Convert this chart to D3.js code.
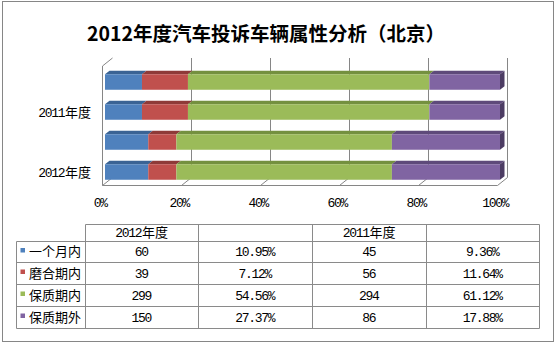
<!DOCTYPE html>
<html><head><meta charset="utf-8">
<script src="https://cdn.jsdelivr.net/npm/d3@7"></script>
<style>html,body{margin:0;padding:0;background:#fff;}svg{display:block;}</style>
</head><body>
<script>
// ---------- data ----------
const seriesNames = ["一个月内", "磨合期内", "保质期内", "保质期外"];
const seriesColors = ["#4F81BD", "#C0504D", "#9BBB59", "#8064A2"];
const topColors = ["#3A6394", "#8E3A38", "#74903F", "#5E4A7A"];
const sideColors = ["#2E4F78", "#74302E", "#5E7533", "#4C3C63"];
const years = ["2012年度", "2011年度"];
const counts2012 = [60, 39, 299, 150];
const pct2012 = [10.95, 7.12, 54.56, 27.37];
const counts2011 = [45, 56, 294, 86];
const pct2011 = [9.36, 11.64, 61.12, 17.88];
const barYears = ["2011年度", "2011年度", "2012年度", "2012年度"];
const axisLabels = ["", "2011年度", "", "2012年度"];
const tickValues = [0, 20, 40, 60, 80, 100];
const tickLabels = ["0%", "20%", "40%", "60%", "80%", "100%"];
const title = "2012年度汽车投诉车辆属性分析（北京）";

// ---------- setup ----------
const W = 556, H = 345;
const svg = d3.select("body").append("svg").attr("width", W).attr("height", H);
svg.append("rect").attr("width", W).attr("height", H).attr("fill", "#fff");
const GRID = "#868686";
const FONT = '"Liberation Mono","Noto Sans CJK SC",sans-serif';

// text with SimSun-like advances: ASCII half width, CJK full width
function simText(g, str, x, y, anchor, size) {
  const chars = Array.from(str);
  const w = chars.map(c => c.charCodeAt(0) < 128 ? size * 0.5 : size);
  const total = d3.sum(w);
  let start = anchor === "middle" ? x - total / 2 : anchor === "end" ? x - total : x;
  const xs = [];
  chars.forEach((c, i) => { xs.push((start + (c.charCodeAt(0) < 128 ? (w[i] - size * 0.6) / 2 : 0)).toFixed(2)); start += w[i]; });
  return g.append("text").attr("x", xs.join(" ")).attr("y", y)
    .attr("dominant-baseline", "central").attr("font-family", FONT)
    .attr("font-size", size).attr("fill", "#000").text(str);
}

// outer border
svg.append("rect").attr("x", 2.5).attr("y", 1.5).attr("width", 551).attr("height", 340)
  .attr("fill", "none").attr("stroke", "#868686");

// title
svg.append("text").attr("x", 266).attr("y", 32).attr("text-anchor", "middle")
  .attr("dominant-baseline", "central")
  .attr("font-family", '"Noto Sans CJK SC",sans-serif').attr("font-weight", "bold")
  .attr("font-size", 19.5).attr("fill", "#000").text(title);

// ---------- 3D plot ----------
const x = d3.scaleLinear().domain([0, 100]).range([102, 497]);
const floorY = 185.5, wallTopFront = 66;
const D = { dx: 10, dy: -8 };       // depth of chart walls
const B = { dx: 3, dy: -2.5 };      // bar front inset
const BD = { dx: 4.5, dy: -3.4 };   // bar depth
const y = d3.scaleBand().domain(d3.range(barYears.length)).range([67, 187])
  .paddingInner(0.483).paddingOuter(0.2417);

const grid = svg.append("g").attr("fill", "none").attr("stroke", GRID).attr("stroke-width", 1);
// gridlines on back wall + floor diagonals
tickValues.forEach(v => {
  const xf = Math.round(x(v)) + 0.5, xb = xf + D.dx;
  if (v > 0) grid.append("line").attr("x1", xb).attr("x2", xb)
    .attr("y1", wallTopFront + D.dy).attr("y2", floorY + D.dy);
  grid.append("line").attr("x1", xf).attr("y1", floorY).attr("x2", xb).attr("y2", floorY + D.dy);
});
// floor front edge
grid.append("line").attr("x1", Math.round(x(0)) + 0.5).attr("x2", Math.round(x(100)) + 0.5)
  .attr("y1", floorY).attr("y2", floorY);
// side wall front edge + top diagonal
const x0 = Math.round(x(0)) + 0.5;
grid.append("path").attr("d",
  `M${x0},${floorY}L${x0},${wallTopFront}L${x0 + D.dx},${wallTopFront + D.dy}`);

// bars
const rows = barYears.map(yr => {
  const p = yr === "2012年度" ? pct2012 : pct2011;
  const o = {};
  seriesNames.forEach((s, i) => o[s] = p[i]);
  return o;
});
const stacked = d3.stack().keys(seriesNames)(rows);
const barsG = svg.append("g");
stacked.forEach((layer, si) => {
  layer.forEach((d, ri) => {
    const xa = x(d[0]) + B.dx, xb = x(d[1]) + B.dx;
    const yt = y(ri), h = y.bandwidth();
    // top face
    barsG.append("path").attr("fill", topColors[si]).attr("d",
      `M${xa},${yt}L${xb},${yt}L${xb + BD.dx},${yt + BD.dy}L${xa + BD.dx},${yt + BD.dy}Z`);
    // right end face (last segment)
    if (si === stacked.length - 1) {
      barsG.append("path").attr("fill", sideColors[si]).attr("d",
        `M${xb},${yt}L${xb + BD.dx},${yt + BD.dy}L${xb + BD.dx},${yt + h + BD.dy}L${xb},${yt + h}Z`);
    }
    // front face
    barsG.append("rect").attr("x", xa).attr("y", yt).attr("width", xb - xa).attr("height", h)
      .attr("fill", seriesColors[si]);
  });
});

// category labels
const labG = svg.append("g");
axisLabels.forEach((lab, i) => {
  if (lab) simText(labG, lab, 91, y(i) + y.bandwidth() / 2 + 1.8, "end", 13);
});
// value tick labels
tickValues.forEach((v, i) => simText(labG, tickLabels[i], x(v) - 1, 203, "middle", 13));

// ---------- data table ----------
const colEdges = [16.5, 85.5, 198.5, 312.5, 426.5, 539.5];
const rowEdges = [224.5, 241.5, 262.5, 284.5, 306.5, 328.5];
const tg = svg.append("g");
const tl = tg.append("g").attr("stroke", "#8a8a8a").attr("stroke-width", 1).attr("fill", "none");
// horizontal lines
rowEdges.forEach((ry, i) => {
  tl.append("line").attr("x1", i === 0 ? colEdges[1] : colEdges[0]).attr("x2", colEdges[5])
    .attr("y1", ry).attr("y2", ry);
});
// vertical lines
colEdges.forEach((cx, i) => {
  tl.append("line").attr("x1", cx).attr("x2", cx)
    .attr("y1", i === 0 ? rowEdges[1] : rowEdges[0]).attr("y2", rowEdges[5]);
});
const colMid = i => (colEdges[i] + colEdges[i + 1]) / 2;
const rowMid = i => (rowEdges[i] + rowEdges[i + 1]) / 2;
// header
simText(tg, years[0], colMid(1), rowMid(0) + 0.5, "middle", 13);
simText(tg, years[1], colMid(3), rowMid(0) + 0.5, "middle", 13);
const fmt = d3.format(".2f");
seriesNames.forEach((s, i) => {
  const cy = rowMid(i + 1) + 0.5;
  tg.append("rect").attr("x", 20.5).attr("y", cy - 4.5).attr("width", 4.5).attr("height", 4.5)
    .attr("fill", seriesColors[i]);
  simText(tg, s, 29, cy, "start", 13);
  simText(tg, String(counts2012[i]), colMid(1), cy, "middle", 13);
  simText(tg, fmt(pct2012[i]) + "%", colMid(2), cy, "middle", 13);
  simText(tg, String(counts2011[i]), colMid(3), cy, "middle", 13);
  simText(tg, fmt(pct2011[i]) + "%", colMid(4), cy, "middle", 13);
});
</script>
</body></html>
